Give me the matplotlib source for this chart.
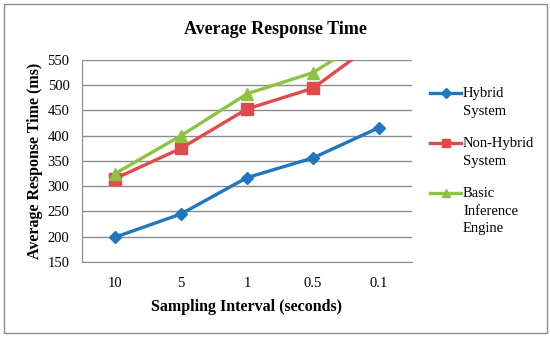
import matplotlib.pyplot as plt
from matplotlib.lines import Line2D
from matplotlib.patches import Rectangle

# data
intervals = ["10", "5", "1", "0.5", "0.1"]
hybrid = [199, 245, 317, 356, 416]
non_hybrid = [315, 375, 453, 494, 590]
basic_engine = [325, 400, 483, 525, 607]
y_ticks = [150, 200, 250, 300, 350, 400, 450, 500, 550]
labels = ['Hybrid\nSystem', 'Non-Hybrid\nSystem', 'Basic\nInference\nEngine']

plt.rcParams['font.family'] = ['Liberation Serif', 'DejaVu Serif']

W, H = 550, 338
fig = plt.figure(figsize=(5.5, 3.38), dpi=100)
ax = fig.add_axes([0.149, 0.225, 0.600, 0.5975])

x = range(len(intervals))
styles = [('#2077c0', 'D', 6.5), ('#e04a4a', 's', 8), ('#8cc342', '^', 8.5)]
for vals, (c, m, ms) in zip([hybrid, non_hybrid, basic_engine], styles):
    ax.plot(x, vals, color=c, lw=2.4, marker=m, ms=ms, clip_on=True)

ax.set_xlim(-0.5, len(intervals) - 0.5)
ax.set_ylim(150, 550)
ax.set_xticks(list(x))
ax.set_xticklabels(intervals)
ax.set_yticks(y_ticks)
ax.yaxis.grid(True, color='#8c8c8c', lw=1)
ax.set_axisbelow(True)
for side in ['top', 'right']:
    ax.spines[side].set_visible(False)
for side in ['left', 'bottom']:
    ax.spines[side].set_color('#8c8c8c')
ax.tick_params(axis='both', length=0, labelsize=10.5)
ax.tick_params(axis='y', pad=9)
ax.tick_params(axis='x', pad=11)

# title centred on the whole chart, as in the reference
fig.text(0.5, 1 - 30 / H, 'Average Response Time', fontsize=13, fontweight='bold',
         ha='center', va='center')
ax.set_xlabel('Sampling Interval (seconds)', fontsize=11.5, fontweight='bold', labelpad=6)
ax.set_ylabel('Average Response Time (ms)', fontsize=11.5, fontweight='bold', labelpad=3)

# legend drawn by hand: handle on the first text line, text wrapping below
row_y = [93, 143, 193]
for (c, m, ms), lab, yy in zip(styles, labels, row_y):
    fy = 1 - yy / H
    fig.add_artist(Line2D([430 / W, 461 / W], [fy, fy], color=c, lw=2.4,
                          transform=fig.transFigure))
    fig.add_artist(Line2D([445.5 / W], [fy], color=c, marker=m, ms=ms * 0.75,
                          transform=fig.transFigure))
    fig.text(463 / W, 1 - (yy - 6) / H, lab, fontsize=10.5, va='top', ha='left',
             linespacing=1.45)

# outer chart border
fig.patches.append(Rectangle((3.5 / W, 5 / H), 543.5 / W, 329 / H, transform=fig.transFigure,
                             fill=False, ec='#8c8c8c', lw=1))

fig.savefig('out.png', dpi=100)
